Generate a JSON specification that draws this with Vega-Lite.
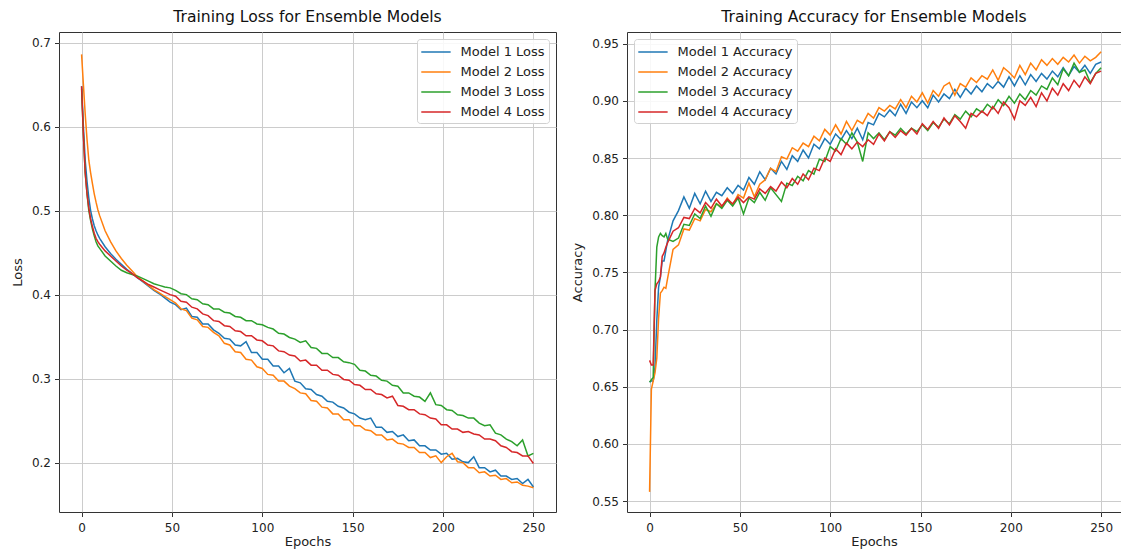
{
  "$schema": "https://vega.github.io/schema/vega-lite/v6.json",
  "padding": {"left": 10, "top": 9, "right": 0, "bottom": 0},
  "spacing": 71,
  "bounds": "flush",
  "datasets": {
    "loss": [
      {"e":0,"m":1,"v":0.648},{"e":1,"m":1,"v":0.600},{"e":2,"m":1,"v":0.560},{"e":3,"m":1,"v":0.535},{"e":4,"m":1,"v":0.515},{"e":5,"m":1,"v":0.500},{"e":6,"m":1,"v":0.490},{"e":7,"m":1,"v":0.482},{"e":8,"m":1,"v":0.476},{"e":9,"m":1,"v":0.471},{"e":10,"m":1,"v":0.467},
      {"e":13,"m":1,"v":0.457},{"e":16,"m":1,"v":0.449},{"e":19,"m":1,"v":0.442},{"e":22,"m":1,"v":0.436},{"e":25,"m":1,"v":0.430},{"e":28,"m":1,"v":0.425},{"e":31,"m":1,"v":0.420},{"e":34,"m":1,"v":0.415},{"e":37,"m":1,"v":0.410},{"e":40,"m":1,"v":0.405},
      {"e":43,"m":1,"v":0.401},{"e":46,"m":1,"v":0.396},{"e":49,"m":1,"v":0.391},{"e":52,"m":1,"v":0.388},{"e":55,"m":1,"v":0.382},{"e":58,"m":1,"v":0.384},{"e":61,"m":1,"v":0.374},{"e":64,"m":1,"v":0.373},{"e":67,"m":1,"v":0.365},{"e":70,"m":1,"v":0.365},
      {"e":73,"m":1,"v":0.358},{"e":76,"m":1,"v":0.354},{"e":79,"m":1,"v":0.348},{"e":82,"m":1,"v":0.347},{"e":85,"m":1,"v":0.340},{"e":88,"m":1,"v":0.339},{"e":91,"m":1,"v":0.344},{"e":94,"m":1,"v":0.331},{"e":97,"m":1,"v":0.331},{"e":100,"m":1,"v":0.323},
      {"e":103,"m":1,"v":0.323},{"e":106,"m":1,"v":0.315},{"e":109,"m":1,"v":0.315},{"e":112,"m":1,"v":0.307},{"e":115,"m":1,"v":0.312},{"e":118,"m":1,"v":0.297},{"e":121,"m":1,"v":0.295},{"e":124,"m":1,"v":0.288},{"e":127,"m":1,"v":0.287},{"e":130,"m":1,"v":0.281},
      {"e":133,"m":1,"v":0.279},{"e":136,"m":1,"v":0.273},{"e":139,"m":1,"v":0.272},{"e":142,"m":1,"v":0.267},{"e":145,"m":1,"v":0.265},{"e":148,"m":1,"v":0.260},{"e":151,"m":1,"v":0.258},{"e":154,"m":1,"v":0.253},{"e":157,"m":1,"v":0.251},{"e":160,"m":1,"v":0.253},
      {"e":163,"m":1,"v":0.242},{"e":166,"m":1,"v":0.242},{"e":169,"m":1,"v":0.236},{"e":172,"m":1,"v":0.237},{"e":175,"m":1,"v":0.231},{"e":178,"m":1,"v":0.233},{"e":181,"m":1,"v":0.226},{"e":184,"m":1,"v":0.227},{"e":187,"m":1,"v":0.220},{"e":190,"m":1,"v":0.220},
      {"e":193,"m":1,"v":0.215},{"e":196,"m":1,"v":0.215},{"e":199,"m":1,"v":0.210},{"e":202,"m":1,"v":0.211},{"e":205,"m":1,"v":0.204},{"e":208,"m":1,"v":0.205},{"e":211,"m":1,"v":0.201},{"e":214,"m":1,"v":0.200},{"e":217,"m":1,"v":0.207},{"e":220,"m":1,"v":0.194},
      {"e":223,"m":1,"v":0.194},{"e":226,"m":1,"v":0.189},{"e":229,"m":1,"v":0.191},{"e":232,"m":1,"v":0.184},{"e":235,"m":1,"v":0.184},{"e":238,"m":1,"v":0.180},{"e":241,"m":1,"v":0.181},{"e":244,"m":1,"v":0.175},{"e":247,"m":1,"v":0.180},{"e":250,"m":1,"v":0.171},

      {"e":0,"m":2,"v":0.686},{"e":1,"m":2,"v":0.650},{"e":2,"m":2,"v":0.615},{"e":3,"m":2,"v":0.585},{"e":4,"m":2,"v":0.560},{"e":5,"m":2,"v":0.545},{"e":6,"m":2,"v":0.532},{"e":7,"m":2,"v":0.520},{"e":8,"m":2,"v":0.510},{"e":9,"m":2,"v":0.501},{"e":10,"m":2,"v":0.494},
      {"e":13,"m":2,"v":0.476},{"e":16,"m":2,"v":0.463},{"e":19,"m":2,"v":0.452},{"e":22,"m":2,"v":0.443},{"e":25,"m":2,"v":0.435},{"e":28,"m":2,"v":0.428},{"e":31,"m":2,"v":0.421},{"e":34,"m":2,"v":0.416},{"e":37,"m":2,"v":0.411},{"e":40,"m":2,"v":0.406},
      {"e":43,"m":2,"v":0.402},{"e":46,"m":2,"v":0.398},{"e":49,"m":2,"v":0.394},{"e":52,"m":2,"v":0.390},{"e":55,"m":2,"v":0.383},{"e":58,"m":2,"v":0.381},{"e":61,"m":2,"v":0.372},{"e":64,"m":2,"v":0.370},{"e":67,"m":2,"v":0.362},{"e":70,"m":2,"v":0.361},
      {"e":73,"m":2,"v":0.355},{"e":76,"m":2,"v":0.351},{"e":79,"m":2,"v":0.342},{"e":82,"m":2,"v":0.340},{"e":85,"m":2,"v":0.332},{"e":88,"m":2,"v":0.331},{"e":91,"m":2,"v":0.323},{"e":94,"m":2,"v":0.322},{"e":97,"m":2,"v":0.314},{"e":100,"m":2,"v":0.312},
      {"e":103,"m":2,"v":0.305},{"e":106,"m":2,"v":0.304},{"e":109,"m":2,"v":0.297},{"e":112,"m":2,"v":0.297},{"e":115,"m":2,"v":0.291},{"e":118,"m":2,"v":0.288},{"e":121,"m":2,"v":0.283},{"e":124,"m":2,"v":0.282},{"e":127,"m":2,"v":0.274},{"e":130,"m":2,"v":0.273},
      {"e":133,"m":2,"v":0.266},{"e":136,"m":2,"v":0.265},{"e":139,"m":2,"v":0.258},{"e":142,"m":2,"v":0.258},{"e":145,"m":2,"v":0.251},{"e":148,"m":2,"v":0.251},{"e":151,"m":2,"v":0.244},{"e":154,"m":2,"v":0.244},{"e":157,"m":2,"v":0.239},{"e":160,"m":2,"v":0.238},
      {"e":163,"m":2,"v":0.233},{"e":166,"m":2,"v":0.233},{"e":169,"m":2,"v":0.227},{"e":172,"m":2,"v":0.228},{"e":175,"m":2,"v":0.223},{"e":178,"m":2,"v":0.222},{"e":181,"m":2,"v":0.218},{"e":184,"m":2,"v":0.218},{"e":187,"m":2,"v":0.212},{"e":190,"m":2,"v":0.212},
      {"e":193,"m":2,"v":0.206},{"e":196,"m":2,"v":0.208},{"e":199,"m":2,"v":0.200},{"e":202,"m":2,"v":0.207},{"e":205,"m":2,"v":0.211},{"e":208,"m":2,"v":0.201},{"e":211,"m":2,"v":0.200},{"e":214,"m":2,"v":0.194},{"e":217,"m":2,"v":0.194},{"e":220,"m":2,"v":0.188},
      {"e":223,"m":2,"v":0.189},{"e":226,"m":2,"v":0.184},{"e":229,"m":2,"v":0.185},{"e":232,"m":2,"v":0.180},{"e":235,"m":2,"v":0.181},{"e":238,"m":2,"v":0.176},{"e":241,"m":2,"v":0.177},{"e":244,"m":2,"v":0.173},{"e":247,"m":2,"v":0.172},{"e":250,"m":2,"v":0.170},

      {"e":0,"m":3,"v":0.645},{"e":1,"m":3,"v":0.590},{"e":2,"m":3,"v":0.545},{"e":3,"m":3,"v":0.520},{"e":4,"m":3,"v":0.500},{"e":5,"m":3,"v":0.488},{"e":6,"m":3,"v":0.478},{"e":7,"m":3,"v":0.470},{"e":8,"m":3,"v":0.463},{"e":9,"m":3,"v":0.458},{"e":10,"m":3,"v":0.455},
      {"e":13,"m":3,"v":0.446},{"e":16,"m":3,"v":0.440},{"e":19,"m":3,"v":0.434},{"e":22,"m":3,"v":0.429},{"e":25,"m":3,"v":0.426},{"e":28,"m":3,"v":0.424},{"e":31,"m":3,"v":0.422},{"e":34,"m":3,"v":0.419},{"e":37,"m":3,"v":0.416},{"e":40,"m":3,"v":0.413},
      {"e":43,"m":3,"v":0.411},{"e":46,"m":3,"v":0.409},{"e":49,"m":3,"v":0.408},{"e":52,"m":3,"v":0.405},{"e":55,"m":3,"v":0.401},{"e":58,"m":3,"v":0.400},{"e":61,"m":3,"v":0.395},{"e":64,"m":3,"v":0.394},{"e":67,"m":3,"v":0.389},{"e":70,"m":3,"v":0.388},
      {"e":73,"m":3,"v":0.383},{"e":76,"m":3,"v":0.383},{"e":79,"m":3,"v":0.379},{"e":82,"m":3,"v":0.378},{"e":85,"m":3,"v":0.374},{"e":88,"m":3,"v":0.373},{"e":91,"m":3,"v":0.369},{"e":94,"m":3,"v":0.369},{"e":97,"m":3,"v":0.365},{"e":100,"m":3,"v":0.364},
      {"e":103,"m":3,"v":0.361},{"e":106,"m":3,"v":0.359},{"e":109,"m":3,"v":0.354},{"e":112,"m":3,"v":0.353},{"e":115,"m":3,"v":0.349},{"e":118,"m":3,"v":0.347},{"e":121,"m":3,"v":0.343},{"e":124,"m":3,"v":0.345},{"e":127,"m":3,"v":0.337},{"e":130,"m":3,"v":0.336},
      {"e":133,"m":3,"v":0.330},{"e":136,"m":3,"v":0.330},{"e":139,"m":3,"v":0.325},{"e":142,"m":3,"v":0.325},{"e":145,"m":3,"v":0.320},{"e":148,"m":3,"v":0.319},{"e":151,"m":3,"v":0.317},{"e":154,"m":3,"v":0.310},{"e":157,"m":3,"v":0.309},{"e":160,"m":3,"v":0.304},
      {"e":163,"m":3,"v":0.303},{"e":166,"m":3,"v":0.298},{"e":169,"m":3,"v":0.297},{"e":172,"m":3,"v":0.292},{"e":175,"m":3,"v":0.291},{"e":178,"m":3,"v":0.283},{"e":181,"m":3,"v":0.283},{"e":184,"m":3,"v":0.279},{"e":187,"m":3,"v":0.278},{"e":190,"m":3,"v":0.273},
      {"e":193,"m":3,"v":0.283},{"e":196,"m":3,"v":0.269},{"e":199,"m":3,"v":0.268},{"e":202,"m":3,"v":0.263},{"e":205,"m":3,"v":0.262},{"e":208,"m":3,"v":0.257},{"e":211,"m":3,"v":0.256},{"e":214,"m":3,"v":0.253},{"e":217,"m":3,"v":0.253},{"e":220,"m":3,"v":0.247},
      {"e":223,"m":3,"v":0.244},{"e":226,"m":3,"v":0.245},{"e":229,"m":3,"v":0.235},{"e":232,"m":3,"v":0.233},{"e":235,"m":3,"v":0.228},{"e":238,"m":3,"v":0.225},{"e":241,"m":3,"v":0.220},{"e":244,"m":3,"v":0.227},{"e":247,"m":3,"v":0.208},{"e":250,"m":3,"v":0.211},

      {"e":0,"m":4,"v":0.648},{"e":1,"m":4,"v":0.590},{"e":2,"m":4,"v":0.545},{"e":3,"m":4,"v":0.520},{"e":4,"m":4,"v":0.503},{"e":5,"m":4,"v":0.490},{"e":6,"m":4,"v":0.481},{"e":7,"m":4,"v":0.473},{"e":8,"m":4,"v":0.467},{"e":9,"m":4,"v":0.463},{"e":10,"m":4,"v":0.460},
      {"e":13,"m":4,"v":0.452},{"e":16,"m":4,"v":0.446},{"e":19,"m":4,"v":0.440},{"e":22,"m":4,"v":0.434},{"e":25,"m":4,"v":0.429},{"e":28,"m":4,"v":0.425},{"e":31,"m":4,"v":0.420},{"e":34,"m":4,"v":0.416},{"e":37,"m":4,"v":0.412},{"e":40,"m":4,"v":0.409},
      {"e":43,"m":4,"v":0.406},{"e":46,"m":4,"v":0.403},{"e":49,"m":4,"v":0.400},{"e":52,"m":4,"v":0.398},{"e":55,"m":4,"v":0.392},{"e":58,"m":4,"v":0.391},{"e":61,"m":4,"v":0.385},{"e":64,"m":4,"v":0.383},{"e":67,"m":4,"v":0.377},{"e":70,"m":4,"v":0.375},
      {"e":73,"m":4,"v":0.369},{"e":76,"m":4,"v":0.368},{"e":79,"m":4,"v":0.363},{"e":82,"m":4,"v":0.362},{"e":85,"m":4,"v":0.357},{"e":88,"m":4,"v":0.356},{"e":91,"m":4,"v":0.351},{"e":94,"m":4,"v":0.351},{"e":97,"m":4,"v":0.346},{"e":100,"m":4,"v":0.345},
      {"e":103,"m":4,"v":0.340},{"e":106,"m":4,"v":0.339},{"e":109,"m":4,"v":0.333},{"e":112,"m":4,"v":0.332},{"e":115,"m":4,"v":0.328},{"e":118,"m":4,"v":0.327},{"e":121,"m":4,"v":0.321},{"e":124,"m":4,"v":0.322},{"e":127,"m":4,"v":0.316},{"e":130,"m":4,"v":0.316},
      {"e":133,"m":4,"v":0.310},{"e":136,"m":4,"v":0.310},{"e":139,"m":4,"v":0.305},{"e":142,"m":4,"v":0.304},{"e":145,"m":4,"v":0.299},{"e":148,"m":4,"v":0.298},{"e":151,"m":4,"v":0.293},{"e":154,"m":4,"v":0.292},{"e":157,"m":4,"v":0.287},{"e":160,"m":4,"v":0.287},
      {"e":163,"m":4,"v":0.282},{"e":166,"m":4,"v":0.281},{"e":169,"m":4,"v":0.277},{"e":172,"m":4,"v":0.279},{"e":175,"m":4,"v":0.268},{"e":178,"m":4,"v":0.267},{"e":181,"m":4,"v":0.263},{"e":184,"m":4,"v":0.263},{"e":187,"m":4,"v":0.258},{"e":190,"m":4,"v":0.257},
      {"e":193,"m":4,"v":0.253},{"e":196,"m":4,"v":0.252},{"e":199,"m":4,"v":0.245},{"e":202,"m":4,"v":0.245},{"e":205,"m":4,"v":0.240},{"e":208,"m":4,"v":0.240},{"e":211,"m":4,"v":0.236},{"e":214,"m":4,"v":0.237},{"e":217,"m":4,"v":0.234},{"e":220,"m":4,"v":0.233},
      {"e":223,"m":4,"v":0.228},{"e":226,"m":4,"v":0.228},{"e":229,"m":4,"v":0.226},{"e":232,"m":4,"v":0.220},{"e":235,"m":4,"v":0.218},{"e":238,"m":4,"v":0.213},{"e":241,"m":4,"v":0.212},{"e":244,"m":4,"v":0.208},{"e":247,"m":4,"v":0.208},{"e":250,"m":4,"v":0.199}
    ],
    "acc": [
      {"e":0,"m":1,"v":0.654},{"e":1,"m":1,"v":0.655},{"e":2,"m":1,"v":0.655},{"e":3,"m":1,"v":0.667},{"e":4,"m":1,"v":0.708},{"e":5,"m":1,"v":0.737},{"e":6,"m":1,"v":0.746},{"e":7,"m":1,"v":0.760},{"e":8,"m":1,"v":0.760},{"e":9,"m":1,"v":0.769},{"e":10,"m":1,"v":0.778},
      {"e":13,"m":1,"v":0.795},{"e":16,"m":1,"v":0.804},{"e":19,"m":1,"v":0.816},{"e":22,"m":1,"v":0.806},{"e":25,"m":1,"v":0.819},{"e":28,"m":1,"v":0.810},{"e":31,"m":1,"v":0.821},{"e":34,"m":1,"v":0.812},{"e":37,"m":1,"v":0.820},{"e":40,"m":1,"v":0.817},
      {"e":43,"m":1,"v":0.824},{"e":46,"m":1,"v":0.819},{"e":49,"m":1,"v":0.826},{"e":52,"m":1,"v":0.822},{"e":55,"m":1,"v":0.833},{"e":58,"m":1,"v":0.827},{"e":61,"m":1,"v":0.838},{"e":64,"m":1,"v":0.831},{"e":67,"m":1,"v":0.841},{"e":70,"m":1,"v":0.836},
      {"e":73,"m":1,"v":0.847},{"e":76,"m":1,"v":0.840},{"e":79,"m":1,"v":0.852},{"e":82,"m":1,"v":0.847},{"e":85,"m":1,"v":0.857},{"e":88,"m":1,"v":0.850},{"e":91,"m":1,"v":0.862},{"e":94,"m":1,"v":0.858},{"e":97,"m":1,"v":0.867},{"e":100,"m":1,"v":0.862},
      {"e":103,"m":1,"v":0.871},{"e":106,"m":1,"v":0.866},{"e":109,"m":1,"v":0.874},{"e":112,"m":1,"v":0.867},{"e":115,"m":1,"v":0.876},{"e":118,"m":1,"v":0.866},{"e":121,"m":1,"v":0.881},{"e":124,"m":1,"v":0.879},{"e":127,"m":1,"v":0.889},{"e":130,"m":1,"v":0.886},
      {"e":133,"m":1,"v":0.892},{"e":136,"m":1,"v":0.887},{"e":139,"m":1,"v":0.897},{"e":142,"m":1,"v":0.889},{"e":145,"m":1,"v":0.899},{"e":148,"m":1,"v":0.894},{"e":151,"m":1,"v":0.900},{"e":154,"m":1,"v":0.894},{"e":157,"m":1,"v":0.905},{"e":160,"m":1,"v":0.899},
      {"e":163,"m":1,"v":0.906},{"e":166,"m":1,"v":0.902},{"e":169,"m":1,"v":0.910},{"e":172,"m":1,"v":0.903},{"e":175,"m":1,"v":0.911},{"e":178,"m":1,"v":0.906},{"e":181,"m":1,"v":0.913},{"e":184,"m":1,"v":0.908},{"e":187,"m":1,"v":0.915},{"e":190,"m":1,"v":0.911},
      {"e":193,"m":1,"v":0.917},{"e":196,"m":1,"v":0.912},{"e":199,"m":1,"v":0.921},{"e":202,"m":1,"v":0.913},{"e":205,"m":1,"v":0.922},{"e":208,"m":1,"v":0.914},{"e":211,"m":1,"v":0.923},{"e":214,"m":1,"v":0.917},{"e":217,"m":1,"v":0.924},{"e":220,"m":1,"v":0.919},
      {"e":223,"m":1,"v":0.926},{"e":226,"m":1,"v":0.921},{"e":229,"m":1,"v":0.929},{"e":232,"m":1,"v":0.922},{"e":235,"m":1,"v":0.930},{"e":238,"m":1,"v":0.925},{"e":241,"m":1,"v":0.931},{"e":244,"m":1,"v":0.924},{"e":247,"m":1,"v":0.932},{"e":250,"m":1,"v":0.934},

      {"e":0,"m":2,"v":0.558},{"e":1,"m":2,"v":0.648},{"e":2,"m":2,"v":0.655},{"e":3,"m":2,"v":0.662},{"e":4,"m":2,"v":0.675},{"e":5,"m":2,"v":0.710},{"e":6,"m":2,"v":0.732},{"e":7,"m":2,"v":0.734},{"e":8,"m":2,"v":0.737},{"e":9,"m":2,"v":0.736},{"e":10,"m":2,"v":0.745},
      {"e":13,"m":2,"v":0.770},{"e":16,"m":2,"v":0.774},{"e":19,"m":2,"v":0.788},{"e":22,"m":2,"v":0.787},{"e":25,"m":2,"v":0.797},{"e":28,"m":2,"v":0.795},{"e":31,"m":2,"v":0.805},{"e":34,"m":2,"v":0.803},{"e":37,"m":2,"v":0.810},{"e":40,"m":2,"v":0.807},
      {"e":43,"m":2,"v":0.815},{"e":46,"m":2,"v":0.809},{"e":49,"m":2,"v":0.818},{"e":52,"m":2,"v":0.815},{"e":55,"m":2,"v":0.828},{"e":58,"m":2,"v":0.816},{"e":61,"m":2,"v":0.827},{"e":64,"m":2,"v":0.831},{"e":67,"m":2,"v":0.841},{"e":70,"m":2,"v":0.838},
      {"e":73,"m":2,"v":0.851},{"e":76,"m":2,"v":0.849},{"e":79,"m":2,"v":0.859},{"e":82,"m":2,"v":0.856},{"e":85,"m":2,"v":0.863},{"e":88,"m":2,"v":0.860},{"e":91,"m":2,"v":0.869},{"e":94,"m":2,"v":0.865},{"e":97,"m":2,"v":0.875},{"e":100,"m":2,"v":0.870},
      {"e":103,"m":2,"v":0.879},{"e":106,"m":2,"v":0.871},{"e":109,"m":2,"v":0.882},{"e":112,"m":2,"v":0.874},{"e":115,"m":2,"v":0.883},{"e":118,"m":2,"v":0.880},{"e":121,"m":2,"v":0.889},{"e":124,"m":2,"v":0.885},{"e":127,"m":2,"v":0.894},{"e":130,"m":2,"v":0.891},
      {"e":133,"m":2,"v":0.896},{"e":136,"m":2,"v":0.893},{"e":139,"m":2,"v":0.901},{"e":142,"m":2,"v":0.894},{"e":145,"m":2,"v":0.904},{"e":148,"m":2,"v":0.899},{"e":151,"m":2,"v":0.907},{"e":154,"m":2,"v":0.898},{"e":157,"m":2,"v":0.909},{"e":160,"m":2,"v":0.904},
      {"e":163,"m":2,"v":0.913},{"e":166,"m":2,"v":0.916},{"e":169,"m":2,"v":0.905},{"e":172,"m":2,"v":0.915},{"e":175,"m":2,"v":0.912},{"e":178,"m":2,"v":0.920},{"e":181,"m":2,"v":0.916},{"e":184,"m":2,"v":0.922},{"e":187,"m":2,"v":0.919},{"e":190,"m":2,"v":0.927},
      {"e":193,"m":2,"v":0.918},{"e":196,"m":2,"v":0.929},{"e":199,"m":2,"v":0.925},{"e":202,"m":2,"v":0.920},{"e":205,"m":2,"v":0.931},{"e":208,"m":2,"v":0.923},{"e":211,"m":2,"v":0.933},{"e":214,"m":2,"v":0.927},{"e":217,"m":2,"v":0.936},{"e":220,"m":2,"v":0.931},
      {"e":223,"m":2,"v":0.937},{"e":226,"m":2,"v":0.932},{"e":229,"m":2,"v":0.938},{"e":232,"m":2,"v":0.934},{"e":235,"m":2,"v":0.940},{"e":238,"m":2,"v":0.933},{"e":241,"m":2,"v":0.939},{"e":244,"m":2,"v":0.935},{"e":247,"m":2,"v":0.938},{"e":250,"m":2,"v":0.943},

      {"e":0,"m":3,"v":0.654},{"e":1,"m":3,"v":0.656},{"e":2,"m":3,"v":0.658},{"e":3,"m":3,"v":0.734},{"e":4,"m":3,"v":0.772},{"e":5,"m":3,"v":0.781},{"e":6,"m":3,"v":0.784},{"e":7,"m":3,"v":0.782},{"e":8,"m":3,"v":0.781},{"e":9,"m":3,"v":0.784},{"e":10,"m":3,"v":0.779},
      {"e":13,"m":3,"v":0.777},{"e":16,"m":3,"v":0.780},{"e":19,"m":3,"v":0.792},{"e":22,"m":3,"v":0.791},{"e":25,"m":3,"v":0.801},{"e":28,"m":3,"v":0.797},{"e":31,"m":3,"v":0.808},{"e":34,"m":3,"v":0.799},{"e":37,"m":3,"v":0.810},{"e":40,"m":3,"v":0.806},
      {"e":43,"m":3,"v":0.813},{"e":46,"m":3,"v":0.808},{"e":49,"m":3,"v":0.815},{"e":52,"m":3,"v":0.801},{"e":55,"m":3,"v":0.815},{"e":58,"m":3,"v":0.811},{"e":61,"m":3,"v":0.820},{"e":64,"m":3,"v":0.813},{"e":67,"m":3,"v":0.824},{"e":70,"m":3,"v":0.818},
      {"e":73,"m":3,"v":0.812},{"e":76,"m":3,"v":0.828},{"e":79,"m":3,"v":0.826},{"e":82,"m":3,"v":0.834},{"e":85,"m":3,"v":0.830},{"e":88,"m":3,"v":0.839},{"e":91,"m":3,"v":0.836},{"e":94,"m":3,"v":0.849},{"e":97,"m":3,"v":0.847},{"e":100,"m":3,"v":0.860},
      {"e":103,"m":3,"v":0.856},{"e":106,"m":3,"v":0.867},{"e":109,"m":3,"v":0.862},{"e":112,"m":3,"v":0.872},{"e":115,"m":3,"v":0.864},{"e":118,"m":3,"v":0.847},{"e":121,"m":3,"v":0.872},{"e":124,"m":3,"v":0.867},{"e":127,"m":3,"v":0.872},{"e":130,"m":3,"v":0.866},
      {"e":133,"m":3,"v":0.873},{"e":136,"m":3,"v":0.870},{"e":139,"m":3,"v":0.876},{"e":142,"m":3,"v":0.871},{"e":145,"m":3,"v":0.876},{"e":148,"m":3,"v":0.873},{"e":151,"m":3,"v":0.879},{"e":154,"m":3,"v":0.874},{"e":157,"m":3,"v":0.881},{"e":160,"m":3,"v":0.877},
      {"e":163,"m":3,"v":0.884},{"e":166,"m":3,"v":0.880},{"e":169,"m":3,"v":0.888},{"e":172,"m":3,"v":0.884},{"e":175,"m":3,"v":0.891},{"e":178,"m":3,"v":0.886},{"e":181,"m":3,"v":0.893},{"e":184,"m":3,"v":0.890},{"e":187,"m":3,"v":0.897},{"e":190,"m":3,"v":0.893},
      {"e":193,"m":3,"v":0.901},{"e":196,"m":3,"v":0.896},{"e":199,"m":3,"v":0.904},{"e":202,"m":3,"v":0.898},{"e":205,"m":3,"v":0.906},{"e":208,"m":3,"v":0.901},{"e":211,"m":3,"v":0.909},{"e":214,"m":3,"v":0.905},{"e":217,"m":3,"v":0.913},{"e":220,"m":3,"v":0.910},
      {"e":223,"m":3,"v":0.920},{"e":226,"m":3,"v":0.914},{"e":229,"m":3,"v":0.928},{"e":232,"m":3,"v":0.922},{"e":235,"m":3,"v":0.933},{"e":238,"m":3,"v":0.925},{"e":241,"m":3,"v":0.927},{"e":244,"m":3,"v":0.916},{"e":247,"m":3,"v":0.924},{"e":250,"m":3,"v":0.929},

      {"e":0,"m":4,"v":0.673},{"e":1,"m":4,"v":0.669},{"e":2,"m":4,"v":0.669},{"e":3,"m":4,"v":0.734},{"e":4,"m":4,"v":0.740},{"e":5,"m":4,"v":0.742},{"e":6,"m":4,"v":0.746},{"e":7,"m":4,"v":0.764},{"e":8,"m":4,"v":0.767},{"e":9,"m":4,"v":0.772},{"e":10,"m":4,"v":0.776},
      {"e":13,"m":4,"v":0.786},{"e":16,"m":4,"v":0.789},{"e":19,"m":4,"v":0.798},{"e":22,"m":4,"v":0.797},{"e":25,"m":4,"v":0.806},{"e":28,"m":4,"v":0.802},{"e":31,"m":4,"v":0.811},{"e":34,"m":4,"v":0.806},{"e":37,"m":4,"v":0.814},{"e":40,"m":4,"v":0.808},
      {"e":43,"m":4,"v":0.814},{"e":46,"m":4,"v":0.810},{"e":49,"m":4,"v":0.816},{"e":52,"m":4,"v":0.811},{"e":55,"m":4,"v":0.816},{"e":58,"m":4,"v":0.814},{"e":61,"m":4,"v":0.823},{"e":64,"m":4,"v":0.819},{"e":67,"m":4,"v":0.825},{"e":70,"m":4,"v":0.821},
      {"e":73,"m":4,"v":0.829},{"e":76,"m":4,"v":0.824},{"e":79,"m":4,"v":0.832},{"e":82,"m":4,"v":0.827},{"e":85,"m":4,"v":0.836},{"e":88,"m":4,"v":0.831},{"e":91,"m":4,"v":0.841},{"e":94,"m":4,"v":0.839},{"e":97,"m":4,"v":0.850},{"e":100,"m":4,"v":0.847},
      {"e":103,"m":4,"v":0.858},{"e":106,"m":4,"v":0.853},{"e":109,"m":4,"v":0.863},{"e":112,"m":4,"v":0.858},{"e":115,"m":4,"v":0.864},{"e":118,"m":4,"v":0.860},{"e":121,"m":4,"v":0.866},{"e":124,"m":4,"v":0.862},{"e":127,"m":4,"v":0.871},{"e":130,"m":4,"v":0.865},
      {"e":133,"m":4,"v":0.873},{"e":136,"m":4,"v":0.868},{"e":139,"m":4,"v":0.874},{"e":142,"m":4,"v":0.870},{"e":145,"m":4,"v":0.876},{"e":148,"m":4,"v":0.871},{"e":151,"m":4,"v":0.880},{"e":154,"m":4,"v":0.875},{"e":157,"m":4,"v":0.882},{"e":160,"m":4,"v":0.876},
      {"e":163,"m":4,"v":0.885},{"e":166,"m":4,"v":0.879},{"e":169,"m":4,"v":0.887},{"e":172,"m":4,"v":0.882},{"e":175,"m":4,"v":0.876},{"e":178,"m":4,"v":0.889},{"e":181,"m":4,"v":0.886},{"e":184,"m":4,"v":0.891},{"e":187,"m":4,"v":0.887},{"e":190,"m":4,"v":0.895},
      {"e":193,"m":4,"v":0.889},{"e":196,"m":4,"v":0.899},{"e":199,"m":4,"v":0.894},{"e":202,"m":4,"v":0.884},{"e":205,"m":4,"v":0.900},{"e":208,"m":4,"v":0.896},{"e":211,"m":4,"v":0.903},{"e":214,"m":4,"v":0.895},{"e":217,"m":4,"v":0.907},{"e":220,"m":4,"v":0.900},
      {"e":223,"m":4,"v":0.911},{"e":226,"m":4,"v":0.905},{"e":229,"m":4,"v":0.915},{"e":232,"m":4,"v":0.909},{"e":235,"m":4,"v":0.918},{"e":238,"m":4,"v":0.912},{"e":241,"m":4,"v":0.921},{"e":244,"m":4,"v":0.915},{"e":247,"m":4,"v":0.924},{"e":250,"m":4,"v":0.926}
    ]
  },
  "hconcat": [
    {
      "width": 497,
      "height": 480,
      "title": {"text": "Training Loss for Ensemble Models"},
      "data": {"name": "loss"},
      "mark": {"type": "line", "strokeWidth": 1.5, "clip": true},
      "encoding": {
        "x": {
          "field": "e", "type": "quantitative", "title": "Epochs",
          "scale": {"domain": [-12.5, 262.5], "nice": false, "zero": false},
          "axis": {"values": [0, 50, 100, 150, 200, 250]}
        },
        "y": {
          "field": "v", "type": "quantitative", "title": "Loss",
          "scale": {"domain": [0.1412, 0.7126], "nice": false, "zero": false},
          "axis": {"values": [0.2, 0.3, 0.4, 0.5, 0.6, 0.7], "format": ".1f"}
        },
        "color": {
          "field": "m", "type": "nominal",
          "scale": {"domain": [1, 2, 3, 4], "range": ["#1f77b4", "#ff7f0e", "#2ca02c", "#d62728"]},
          "legend": {"orient": "top-right", "offset": 7, "labelExpr": "'Model ' + datum.label + ' Loss'"}
        }
      }
    },
    {
      "width": 494,
      "height": 480,
      "title": {"text": "Training Accuracy for Ensemble Models"},
      "data": {"name": "acc"},
      "mark": {"type": "line", "strokeWidth": 1.5, "clip": true},
      "encoding": {
        "x": {
          "field": "e", "type": "quantitative", "title": "Epochs",
          "scale": {"domain": [-12.5, 261], "nice": false, "zero": false},
          "axis": {"values": [0, 50, 100, 150, 200, 250]}
        },
        "y": {
          "field": "v", "type": "quantitative", "title": "Accuracy",
          "scale": {"domain": [0.5404, 0.9602], "nice": false, "zero": false},
          "axis": {"values": [0.55, 0.6, 0.65, 0.7, 0.75, 0.8, 0.85, 0.9, 0.95], "format": ".2f"}
        },
        "color": {
          "field": "m", "type": "nominal",
          "scale": {"domain": [1, 2, 3, 4], "range": ["#1f77b4", "#ff7f0e", "#2ca02c", "#d62728"]},
          "legend": {"orient": "top-left", "offset": 7, "labelExpr": "'Model ' + datum.label + ' Accuracy'"}
        }
      }
    }
  ],
  "resolve": {"scale": {"color": "independent"}},
  "config": {
    "font": "DejaVu Sans",
    "background": "white",
    "view": {"stroke": "#333333", "strokeWidth": 1},
    "title": {"fontSize": 15.6, "fontWeight": "normal", "color": "#111111", "baseline": "alphabetic", "offset": 6},
    "axis": {
      "grid": true,
      "gridColor": "#cccccc",
      "gridWidth": 1,
      "domain": false,
      "ticks": true,
      "tickSize": 4.5,
      "tickColor": "#333333",
      "labelFontSize": 12,
      "labelColor": "#222222",
      "labelPadding": 4,
      "titleFontSize": 13,
      "titleFontWeight": "normal",
      "titleColor": "#222222"
    },
    "axisX": {"titlePadding": 2, "labelPadding": 5.5, "labelFlush": false},
    "axisY": {"titlePadding": 7, "labelFlush": false},
    "legend": {
      "title": null,
      "symbolType": "M-1.09,0H2.58",
      "symbolSize": 256,
      "symbolStrokeWidth": 1.5,
      "labelFontSize": 13,
      "labelColor": "#222222",
      "labelOffset": 21.5,
      "rowPadding": 4,
      "padding": 4,
      "fillColor": "rgba(255,255,255,0.85)",
      "strokeColor": "#d0d0d0",
      "cornerRadius": 3,
      "labelLimit": 300
    }
  }
}
